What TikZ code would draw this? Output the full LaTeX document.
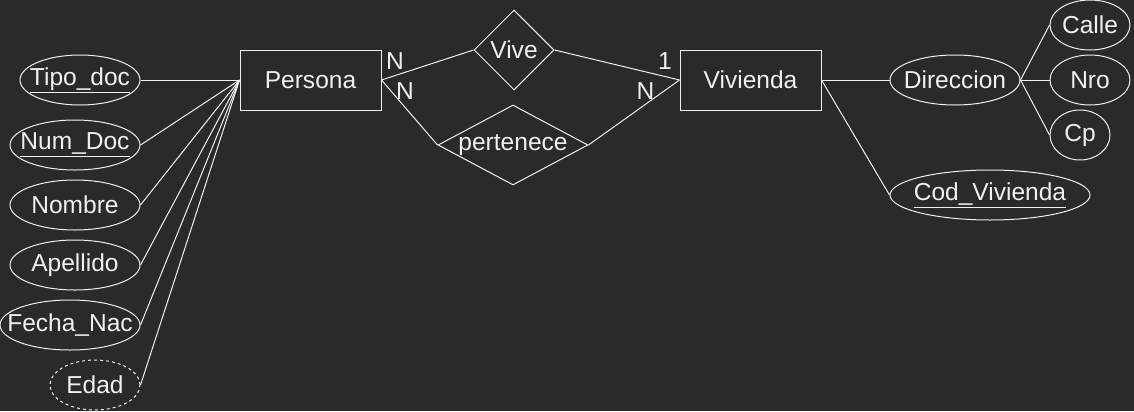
\documentclass[tikz,border=0pt]{standalone}
\usepackage{fontspec}
\setmainfont{Liberation Sans}
\definecolor{bggray}{RGB}{42,42,42}
\definecolor{inkwhite}{RGB}{240,240,240}
\usetikzlibrary{shapes.geometric}

\begin{document}
\begin{tikzpicture}[x=0.75pt, y=-0.75pt, line width=0.75pt,
  every node/.style={text=inkwhite, font=\fontsize{18.4}{22}\selectfont},
  entity/.style={draw=inkwhite, minimum width=105.75pt, minimum height=45pt, inner sep=0pt},
  rel/.style={draw=inkwhite, diamond, inner sep=0pt},
  attr/.style={draw=inkwhite, ellipse, minimum height=37.5pt, inner sep=0pt, label={center:#1}},
  link/.style={draw=inkwhite, line width=0.75pt}]
  % background and page size
  \fill[bggray] (0,0) rectangle (1134,411);
  \useasboundingbox (0,0) rectangle (1134,411);

  % entities
  \node[entity] (persona) at (310.5,80) {Persona};
  \node[entity] (vivienda) at (750.5,80) {Vivienda};

  % relations
  \node[rel, minimum width=60pt, minimum height=60pt] (vive) at (514,50) {Vive};
  \node[rel, minimum width=112.5pt, minimum height=60pt, label={center:pertenece}] (pertenece) at (513,145) {};

  % attributes of Persona
  \node[attr={\underline{Tipo\_doc}}, minimum width=90pt] (tipodoc) at (80,80) {};
  \node[attr={\underline{Num\_Doc}}, minimum width=97.5pt] (numdoc) at (75,145) {};
  \node[attr=Nombre, minimum width=97.5pt] (nombre) at (75,205) {};
  \node[attr=Apellido, minimum width=97.5pt] (apellido) at (75,265) {};
  \node[attr=Fecha\_Nac, minimum width=105pt] (fechanac) at (70,325) {};
  \node[attr=Edad, minimum width=67.5pt, dash pattern=on 2.25pt off 2.25pt] (edad) at (95,385) {};

  % attributes of Vivienda
  \node[attr=Direccion, minimum width=97.5pt] (direccion) at (955,80) {};
  \node[attr=Calle, minimum width=60pt] (calle) at (1090,25) {};
  \node[attr=Nro, minimum width=60pt] (nro) at (1090,80) {};
  \node[attr=Cp, minimum width=45pt] (cp) at (1080,135) {};
  \node[attr={\underline{Cod\_Vivienda}}, minimum width=150pt] (codviv) at (990,195) {};

  % connectors
  \foreach \a in {tipodoc, numdoc, nombre, apellido, fechanac, edad}
    \draw[link] (persona.west) -- (\a.east);
  \draw[link] (persona.east) -- (vive.west);
  \draw[link] (persona.east) -- (pertenece.west);
  \draw[link] (vivienda.west) -- (vive.east);
  \draw[link] (vivienda.west) -- (pertenece.east);
  \draw[link] (vivienda.east) -- (direccion.west);
  \draw[link] (vivienda.east) -- (codviv.west);
  \foreach \a in {calle, nro, cp}
    \draw[link] (direccion.east) -- (\a.west);

  % cardinalities
  \node (cardvive1) at (395,61.5) {N};
  \node (cardpert1) at (405,91.5) {N};
  \node (cardvive2) at (665,61.5) {1};
  \node (cardpert2) at (645.5,91.5) {N};
\end{tikzpicture}
\end{document}
